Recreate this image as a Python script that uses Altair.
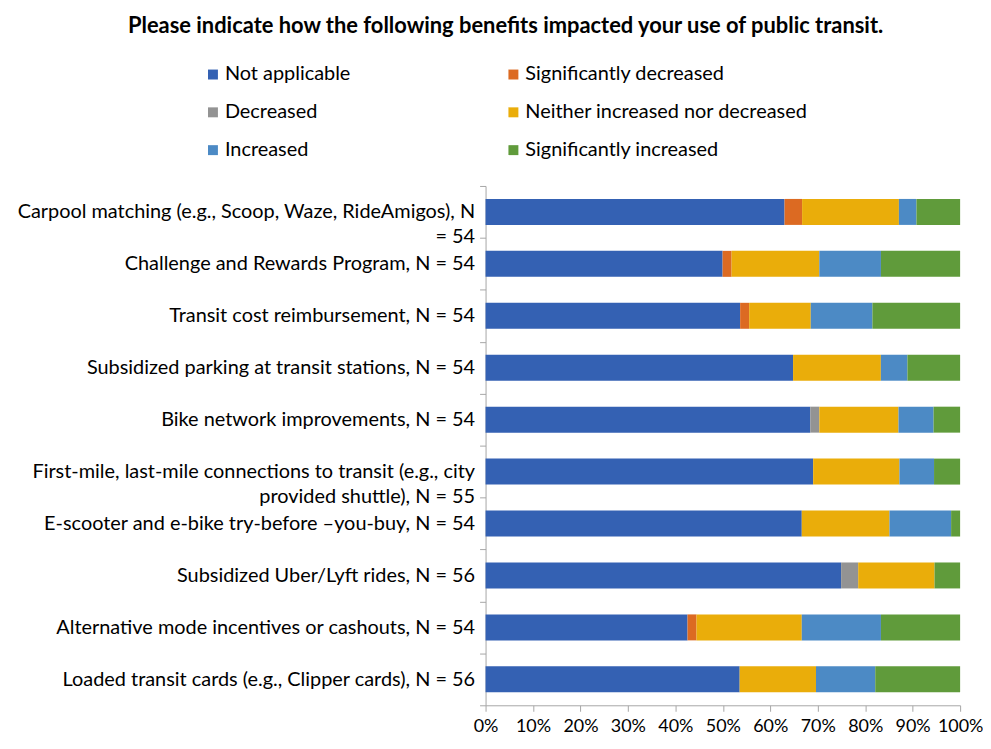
import altair as alt
import pandas as pd

NB = "\u00a0"

categories = [
    "Carpool matching (e.g., Scoop, Waze, RideAmigos), N|= 54" + NB * 54,
    "Challenge and Rewards Program, N = 54",
    "Transit cost reimbursement, N = 54",
    "Subsidized parking at transit stations, N = 54",
    "Bike network improvements, N = 54",
    "First-mile, last-mile connections to transit (e.g., city|provided shuttle), N = 55" + NB * 24,
    "E-scooter and e-bike try-before \u2013you-buy, N = 54",
    "Subsidized Uber/Lyft rides, N = 56",
    "Alternative mode incentives or cashouts, N = 54",
    "Loaded transit cards (e.g., Clipper cards), N = 56",
]

series = [
    "Not applicable",
    "Significantly decreased",
    "Decreased",
    "Neither increased nor decreased",
    "Increased",
    "Significantly increased",
]
colors = ["#3461B3", "#DC6A22", "#939393", "#EAAD0A", "#4C8AC5", "#609B3B"]

not_applicable = [63.0, 50.0, 53.7, 64.8, 68.5, 69.1, 66.7, 75.0, 42.6, 53.6]
sig_decreased = [3.7, 1.9, 1.9, 0, 0, 0, 0, 0, 1.9, 0]
decreased = [0, 0, 0, 0, 1.9, 0, 0, 3.6, 0, 0]
neither = [20.4, 18.5, 13.0, 18.5, 16.7, 18.2, 18.5, 16.1, 22.2, 16.1]
increased = [3.7, 13.0, 13.0, 5.6, 7.4, 7.3, 13.0, 0, 16.7, 12.5]
sig_increased = [9.2, 16.7, 18.5, 11.1, 5.6, 5.5, 1.9, 5.4, 16.7, 17.9]

values = [not_applicable, sig_decreased, decreased, neither, increased, sig_increased]

rows = []
for si, (s, vals) in enumerate(zip(series, values)):
    for c, v in zip(categories, vals):
        rows.append({"category": c, "series": s, "order": si, "value": v})
df = pd.DataFrame(rows)

FONT = "Lato"

chart = alt.Chart(df).mark_bar(height={"band": 0.5}).encode(
    y=alt.Y(
        "category:N",
        sort=categories,
        title=None,
        scale=alt.Scale(paddingInner=0, paddingOuter=0),
        axis=alt.Axis(
            labelExpr="split(datum.label, '|')",
            labelFontSize=20,
            labelFont=FONT,
            labelColor="#000000",
            labelLineHeight=25,
            labelPadding=5,
            labelLimit=600,
            ticks=True,
            tickBand="extent",
            tickSize=6,
            tickColor="#A6A6A6",
            domainColor="#A6A6A6",
        ),
    ),
    x=alt.X(
        "value:Q",
        stack="normalize",
        title=None,
        scale=alt.Scale(domain=[0, 1], nice=False),
        axis=alt.Axis(
            format=".0%",
            values=[i / 10 for i in range(11)],
            grid=False,
            labelOverlap=False,
            labelFlush=False,
            labelFontSize=18,
            labelFont=FONT,
            labelColor="#000000",
            tickColor="#A6A6A6",
            tickSize=6,
            labelPadding=6,
            domainColor="#A6A6A6",
        ),
    ),
    color=alt.Color(
        "series:N",
        sort=series,
        scale=alt.Scale(domain=series, range=colors),
        legend=alt.Legend(
            title=None,
            orient="none",
            direction="horizontal",
            legendX=-284,
            legendY=-122,
            columns=2,
            columnPadding=153,
            rowPadding=18,
            symbolType="square",
            symbolSize=100,
            symbolStrokeWidth=0,
            labelFontSize=20,
            labelFont=FONT,
            labelColor="#000000",
            labelOffset=2,
            labelLimit=500,
        ),
    ),
    order=alt.Order("order:Q"),
).properties(
    width=477,
    height=522,
    title=alt.Title(
        "Please indicate how the following benefits impacted your use of public transit.",
        fontSize=22,
        font=FONT,
        fontWeight="bold",
        color="#000000",
        anchor="middle",
        frame="bounds",
        offset=27,
        dx=6,
    ),
    padding={"top": 5, "bottom": 0, "left": 8, "right": 0},
).configure_view(stroke=None)

chart.save("out.html", embed_options={"renderer": "svg", "actions": False})
